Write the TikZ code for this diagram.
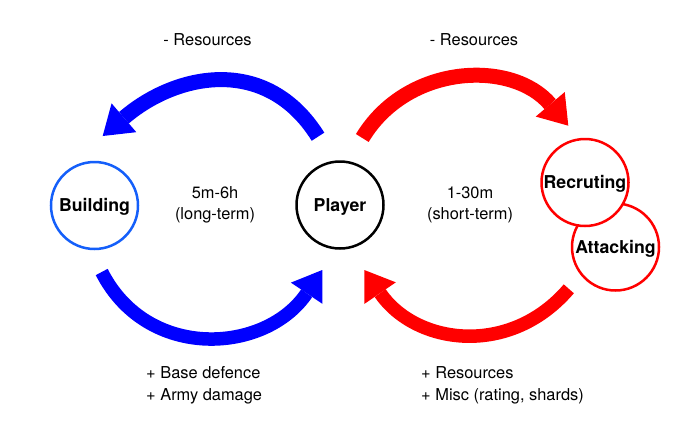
\documentclass[tikz,border=0pt]{standalone}
\usepackage{fontspec}
\setmainfont{TeX Gyre Heros}
\usetikzlibrary{arrows.meta}
\definecolor{bldblue}{RGB}{20,95,250}
\definecolor{arrblue}{RGB}{0,0,255}
\definecolor{arrred}{RGB}{255,0,0}
\begin{document}
\begin{tikzpicture}[x=1pt,y=-1pt,
  lbl/.style={font=\fontsize{16.4}{21.5}\selectfont, inner sep=0pt},
  stage/.style={circle, line width=2.5pt, minimum size=87pt, inner sep=0pt, fill=white,
    font=\fontsize{17.7}{21}\selectfont\bfseries, text height=12.7pt, text depth=0pt},
  flow/.style={-{Triangle[length=28pt,width=38pt,line width=0pt]}}
]
\fill[white] (0,0) rectangle (700,440);
\useasboundingbox (0,0) rectangle (700,440);

% arrow geometry
\coordinate (bt-s) at (318,136.7);
\coordinate (bt-a) at (266.6,54.5);
\coordinate (bt-b) at (176.2,72.9);
\coordinate (bt-e) at (102.7,136);

\coordinate (rt-s) at (362.3,138);
\coordinate (rt-a) at (407.1,63.5);
\coordinate (rt-b) at (512.2,59.3);
\coordinate (rt-e) at (568.3,125.7);

\coordinate (bb-s) at (101.7,272);
\coordinate (bb-a) at (147.5,361.8);
\coordinate (bb-b) at (266,353.6);
\coordinate (bb-e) at (322.3,270);

\coordinate (rb-s) at (568.8,288.8);
\coordinate (rb-a) at (509.9,357.7);
\coordinate (rb-b) at (415.6,344.7);
\coordinate (rb-e) at (364.3,270);

\draw[flow, arrblue, line width=15pt] (bt-s) .. controls (bt-a) and (bt-b) .. (bt-e);
\draw[flow, arrred, line width=15pt] (rt-s) .. controls (rt-a) and (rt-b) .. (rt-e);
\draw[flow, arrblue, line width=13.5pt] (bb-s) .. controls (bb-a) and (bb-b) .. (bb-e);
\draw[flow, arrred, line width=13.5pt] (rb-s) .. controls (rb-a) and (rb-b) .. (rb-e);

% stages
\node[stage, draw=bldblue] (building) at (94.5,205.5) {Building};
\node[stage, draw=black] (player) at (340,205) {Player};
\node[stage, draw=arrred] (attacking) at (615.5,247) {Attacking};
\node[stage, draw=arrred] (recruting) at (585,182.5) {Recruting};

% labels
\node[lbl] (resL) at (207.5,40) {- Resources};
\node[lbl] (resR) at (474,40) {- Resources};
\node[lbl, align=center] (longterm) at (215,205) {5m-6h\\(long-term)};
\node[lbl, align=center] (shortterm) at (470,205) {1-30m\\(short-term)};
\node[lbl, align=left, anchor=west] (gainL) at (146,385.4) {+ Base defence\\+ Army damage};
\node[lbl, align=left, anchor=west] (gainR) at (421,385.4) {+ Resources\\+ Misc (rating, shards)};
\end{tikzpicture}
\end{document}
